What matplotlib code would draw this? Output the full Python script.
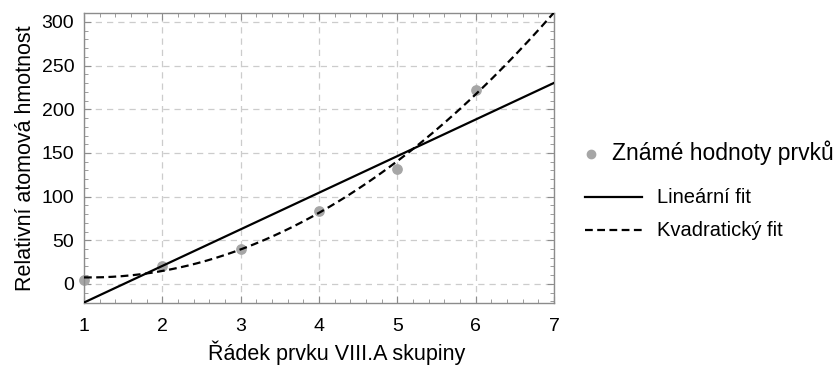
import numpy as np
import matplotlib.pyplot as plt
from matplotlib.ticker import MultipleLocator
from matplotlib.lines import Line2D

plt.rcParams['font.family'] = ['Liberation Sans', 'DejaVu Sans']

# rows of group VIII.A and relative atomic masses (He..Rn)
rows = [1, 2, 3, 4, 5, 6]
masses = [4.0, 20.18, 39.95, 83.80, 131.29, 222.0]

x = np.array(rows, dtype=float)
y = np.array(masses)
lin = np.polyfit(x, y, 1)
quad = np.polyfit(x, y, 2)
xs = np.linspace(1, 7, 200)

fig = plt.figure(figsize=(8.36, 3.67), dpi=100)
ax = fig.add_axes([84 / 836, 1 - 303 / 367, 470 / 836, 290 / 367])

frame = '#8c8c8c'
dash = (0, (3.5, 2))
ax.plot(xs, np.polyval(lin, xs), color='black', lw=1.6, zorder=3)
ax.plot(xs, np.polyval(quad, xs), color='black', lw=1.6, ls=dash, zorder=3)
ax.scatter(x, y, s=45, color='#a6a6a6', zorder=2, clip_on=False)

ax.set_xlim(1, 7)
ax.set_ylim(-21.8, 310.3)
ax.xaxis.set_major_locator(MultipleLocator(1))
ax.xaxis.set_minor_locator(MultipleLocator(0.2))
ax.yaxis.set_major_locator(MultipleLocator(50))
ax.yaxis.set_minor_locator(MultipleLocator(10))
ax.grid(True, which='major', color='#cccccc', ls=(0, (5, 4)), lw=0.9)
ax.set_axisbelow(True)
for s in ax.spines.values():
    s.set_color(frame)
    s.set_linewidth(1.0)
ax.tick_params(which='both', direction='in', top=True, right=True, color=frame,
               labelsize=14)
ax.tick_params(which='major', length=5)
ax.tick_params(which='minor', length=3)
ax.tick_params(axis='x', pad=11)
ax.tick_params(axis='y', pad=7)

ax.set_xlabel('Řádek prvku VIII.A skupiny', fontsize=15.5, labelpad=4)
ax.xaxis.set_label_coords(0.538, -0.13)
ax.xaxis.label.set_va('top')
ax.set_ylabel('Relativní atomová hmotnost', fontsize=15.5, labelpad=4)

# legend outside on the right
fig.text(612 / 836, 1 - 153 / 367, 'Známé hodnoty prvků', fontsize=16.5, va='center')
fig.add_artist(Line2D([591 / 836], [1 - 154 / 367], marker='o', ms=6,
                      color='#a6a6a6', ls='none', transform=fig.transFigure))
fig.text(657 / 836, 1 - 197 / 367, 'Lineární fit', fontsize=14.5, va='center')
fig.add_artist(Line2D([585 / 836, 642 / 836], [1 - 197 / 367] * 2, color='black',
                      lw=1.6, transform=fig.transFigure))
fig.text(657 / 836, 1 - 230 / 367, 'Kvadratický fit', fontsize=14.5, va='center')
fig.add_artist(Line2D([585 / 836, 642 / 836], [1 - 230 / 367] * 2, color='black',
                      lw=1.6, ls=dash, transform=fig.transFigure))

fig.savefig('out.png', dpi=100)
